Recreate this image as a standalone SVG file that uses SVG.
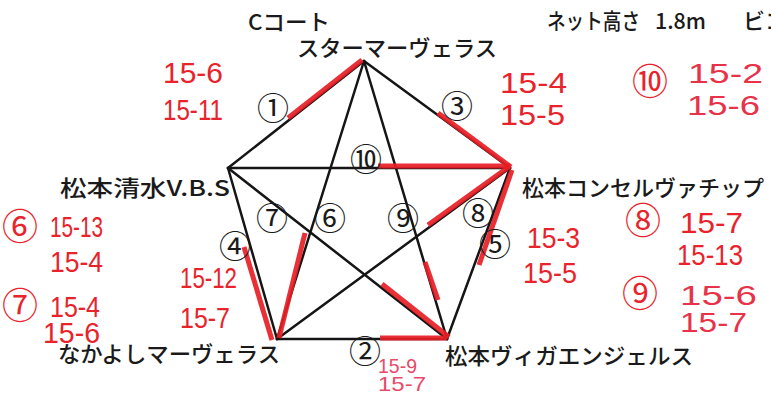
<svg xmlns="http://www.w3.org/2000/svg" width="771" height="394" viewBox="0 0 771 394">
<style>
.lbl{font-family:"Noto Sans CJK JP","Noto Sans",sans-serif;font-size:22px;font-weight:500;fill:#1a1a1a}
.num{font-family:"Noto Sans CJK JP","Noto Sans",sans-serif;font-size:32px;fill:#1a1a1a;text-anchor:middle}
.sc{font-family:"Liberation Sans","Noto Sans",sans-serif;font-size:29px;fill:#e8232b}
.sc2{font-family:"Liberation Sans","Noto Sans",sans-serif;font-size:27px;fill:#e8324a}
.sc3{font-family:"Liberation Sans","Noto Sans",sans-serif;font-size:21px;fill:#e84a6a}
.rc{font-family:"Noto Sans CJK JP","Noto Sans",sans-serif;font-size:36px;fill:#e8232b;text-anchor:middle}
.edge{stroke:#151515;stroke-width:2.5;fill:none;stroke-linecap:round}
.hl{stroke:#e61e25;stroke-width:5;fill:none;stroke-linecap:butt;opacity:0.92}
</style>
<rect width="771" height="394" fill="#ffffff"/>
<g id="header">
<text class="lbl" x="248" y="30" font-size="23" textLength="82" lengthAdjust="spacingAndGlyphs">Cコート</text>
<text class="lbl" x="547" y="29" font-size="21" textLength="93" lengthAdjust="spacingAndGlyphs">ネット高さ</text>
<text class="lbl" x="655" y="29" font-size="21" textLength="51" lengthAdjust="spacingAndGlyphs">1.8m</text>
<text class="lbl" x="743" y="29" font-size="21">ビコ</text>
</g>
<g id="connectors">
<line class="edge" x1="364" y1="61" x2="510" y2="168"/>
<line class="edge" x1="510" y1="168" x2="447" y2="339"/>
<line class="edge" x1="447" y1="339" x2="277" y2="339"/>
<line class="edge" x1="277" y1="339" x2="228" y2="168"/>
<line class="edge" x1="228" y1="168" x2="364" y2="61"/>
<line class="edge" x1="364" y1="61" x2="277" y2="339"/>
<line class="edge" x1="364" y1="61" x2="447" y2="339"/>
<line class="edge" x1="228" y1="168" x2="510" y2="168"/>
<line class="edge" x1="228" y1="168" x2="447" y2="339"/>
<line class="edge" x1="510" y1="168" x2="277" y2="339"/>
</g>
<g id="highlights">
<line class="hl" x1="288" y1="118" x2="362" y2="60"/>
<line class="hl" x1="438" y1="113" x2="511" y2="167"/>
<line class="hl" x1="244" y1="247" x2="272" y2="340"/>
<line class="hl" x1="380" y1="338" x2="447" y2="338" stroke="#9a2626" stroke-width="7"/>
<line class="hl" x1="512" y1="170" x2="479" y2="265"/>
<line class="hl" x1="305" y1="233" x2="279" y2="338"/>
<line class="hl" x1="425" y1="262" x2="438" y2="300" stroke="#f07a80" stroke-width="3"/>
<line class="hl" x1="378" y1="166" x2="510" y2="166"/>
<line class="hl" x1="382" y1="284" x2="449" y2="337"/>
<line class="hl" x1="428" y1="225" x2="510" y2="166"/>
</g>
<g id="match-numbers">
<text class="num" x="273" y="120">①</text>
<text class="num" x="365" y="363">②</text>
<text class="num" x="457" y="118">③</text>
<text class="num" x="235" y="258">④</text>
<text class="num" x="495" y="256">⑤</text>
<text class="num" x="330" y="230">⑥</text>
<text class="num" x="272" y="230">⑦</text>
<text class="num" x="478" y="225">⑧</text>
<text class="num" x="403" y="230">⑨</text>
<text class="num" x="366" y="171">⑩</text>
</g>
<g id="node-star"><text class="lbl" x="297" y="56" textLength="200" lengthAdjust="spacingAndGlyphs">スターマーヴェラス</text></g>
<g id="node-concel"><text class="lbl" x="522" y="196" font-size="22.5">松本コンセルヴァチップ</text></g>
<g id="node-shimizu"><text class="lbl" x="60" y="196" font-size="23" textLength="170" lengthAdjust="spacingAndGlyphs">松本清水V.B.S</text></g>
<g id="node-nakayoshi"><text class="lbl" x="58" y="362" textLength="222" lengthAdjust="spacingAndGlyphs">なかよしマーヴェラス</text></g>
<g id="node-viga"><text class="lbl" x="445" y="364" font-size="22.5" textLength="248" lengthAdjust="spacingAndGlyphs">松本ヴィガエンジェルス</text></g>
<g id="scores">
<text class="sc" x="163" y="83" textLength="60" lengthAdjust="spacingAndGlyphs">15-6</text>
<text class="sc" x="163" y="120" textLength="60" lengthAdjust="spacingAndGlyphs">15-11</text>
<text class="sc" x="500" y="93" textLength="67" lengthAdjust="spacingAndGlyphs">15-4</text>
<text class="sc" x="500" y="125" textLength="65" lengthAdjust="spacingAndGlyphs">15-5</text>
<text class="rc" x="650" y="95" font-size="38">⑩</text>
<text class="sc2" x="688" y="83" textLength="75" lengthAdjust="spacingAndGlyphs">15-2</text>
<text class="sc2" x="687" y="115" textLength="73" lengthAdjust="spacingAndGlyphs">15-6</text>
<text class="rc" x="20" y="240">⑥</text>
<text class="sc" x="50" y="237" textLength="53" lengthAdjust="spacingAndGlyphs">15-13</text>
<text class="sc" x="50" y="272" textLength="53" lengthAdjust="spacingAndGlyphs">15-4</text>
<text class="rc" x="20" y="319">⑦</text>
<text class="sc" x="50" y="317" textLength="50" lengthAdjust="spacingAndGlyphs">15-4</text>
<text class="sc" x="43" y="343" textLength="57" lengthAdjust="spacingAndGlyphs">15-6</text>
<text class="sc" x="180" y="288" textLength="57" lengthAdjust="spacingAndGlyphs">15-12</text>
<text class="sc" x="180" y="328" textLength="50" lengthAdjust="spacingAndGlyphs">15-7</text>
<text class="sc3" x="378" y="373" textLength="39" lengthAdjust="spacingAndGlyphs">15-9</text>
<text class="sc3" x="378" y="391" textLength="48" lengthAdjust="spacingAndGlyphs">15-7</text>
<text class="sc" x="527" y="248" textLength="53" lengthAdjust="spacingAndGlyphs">15-3</text>
<text class="sc" x="523" y="283" textLength="54" lengthAdjust="spacingAndGlyphs">15-5</text>
<text class="rc" x="643" y="234">⑧</text>
<text class="sc" x="680" y="233" textLength="63" lengthAdjust="spacingAndGlyphs">15-7</text>
<text class="sc" x="677" y="265" textLength="66" lengthAdjust="spacingAndGlyphs">15-13</text>
<text class="rc" x="640" y="307">⑨</text>
<text class="sc2" x="680" y="305" textLength="77" lengthAdjust="spacingAndGlyphs">15-6</text>
<text class="sc2" x="680" y="332" textLength="67" lengthAdjust="spacingAndGlyphs">15-7</text>
</g>
</svg>
